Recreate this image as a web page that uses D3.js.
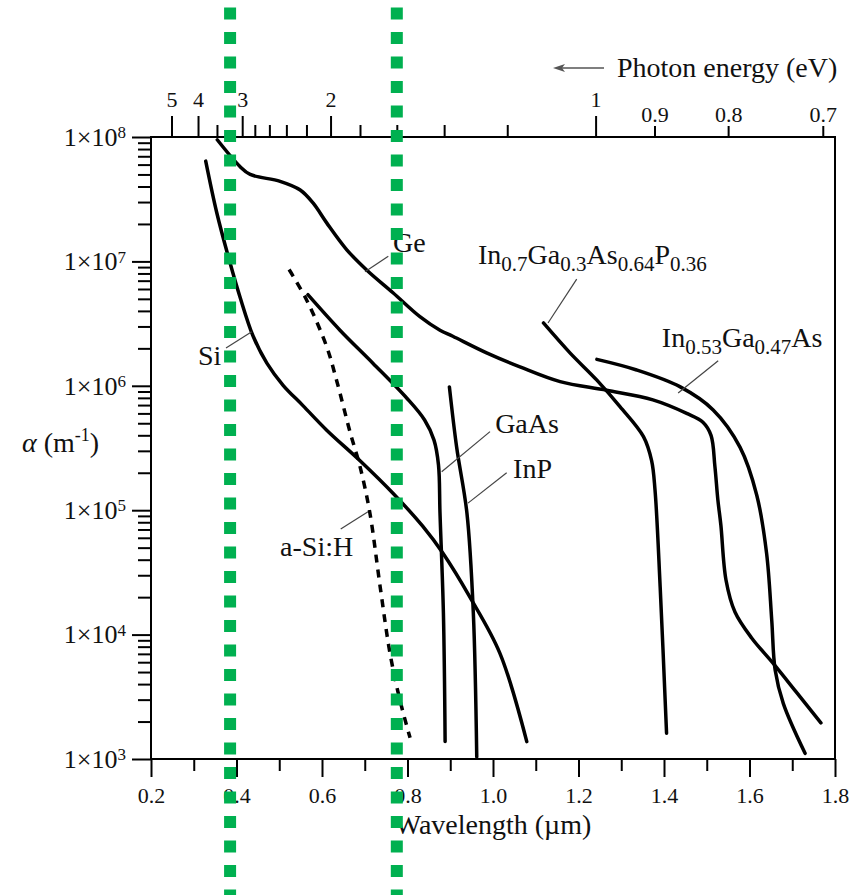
<!DOCTYPE html>
<html>
<head>
<meta charset="utf-8">
<title>Absorption coefficient vs wavelength</title>
<script src="https://d3js.org/d3.v7.min.js"></script>
<style>
  body { margin: 0; background: #fff; }
  svg text { font-family: "Liberation Serif", "Times New Roman", serif; fill: #111; }
  .tick line { stroke: #000; stroke-width: 2; }
</style>
</head>
<body>
<script>
// absorption curves, each point is [wavelength (um), alpha (1/m)]
var ge = [[0.355, 9.5e7], [0.408, 5.8e7], [0.432, 5.0e7], [0.502, 4.4e7], [0.549, 3.75e7],
  [0.579, 2.95e7], [0.611, 2.04e7], [0.658, 1.24e7], [0.705, 8.5e6], [0.766, 5.6e6],
  [0.829, 3.6e6], [0.876, 2.8e6], [0.906, 2.5e6], [0.985, 1.84e6], [1.063, 1.42e6],
  [1.157, 1.08e6], [1.266, 9.2e5], [1.374, 7.7e5], [1.453, 6.0e5], [1.491, 5.1e5],
  [1.510, 4.0e5], [1.519, 2.26e5], [1.526, 1.21e5], [1.533, 7.6e4], [1.545, 2.75e4],
  [1.566, 1.52e4], [1.605, 9.4e3], [1.655, 5.9e3], [1.711, 3.4e3], [1.767, 1.95e3]];
var si = [[0.328, 6.4e7], [0.354, 2.45e7], [0.385, 9.7e6], [0.408, 5.2e6], [0.439, 2.5e6],
  [0.471, 1.52e6], [0.509, 1.01e6], [0.556, 6.9e5], [0.611, 4.4e5], [0.689, 2.5e5],
  [0.766, 1.37e5], [0.836, 7.4e4], [0.883, 4.5e4], [0.946, 2.0e4], [1.016, 7.1e3],
  [1.079, 1.38e3]];
var aSiH = [[0.523, 8.6e6], [0.564, 4.9e6], [0.611, 2.06e6], [0.634, 1.11e6], [0.666, 4.2e5],
  [0.689, 2.24e5], [0.712, 9.5e4], [0.736, 2.43e4], [0.759, 7.1e3], [0.782, 3.0e3],
  [0.806, 1.48e3]];
var gaAs = [[0.567, 5.4e6], [0.642, 2.8e6], [0.719, 1.52e6], [0.798, 7.98e5], [0.840, 5.31e5],
  [0.862, 3.66e5], [0.8725, 2.31e5], [0.876, 9.5e4], [0.884, 1.49e4], [0.888, 1.38e3]];
var inP = [[0.898, 9.8e5], [0.915, 3.2e5], [0.939, 9.5e4], [0.954, 1.49e4], [0.962, 1.04e3]];
var inGaAsP = [[1.118, 3.2e6], [1.180, 1.84e6], [1.243, 1.11e6], [1.297, 6.8e5], [1.352, 3.9e5],
  [1.371, 2.5e5], [1.379, 1.45e5], [1.391, 2.43e4], [1.406, 1.61e3]];
var inGaAs = [[1.243, 1.63e6], [1.336, 1.34e6], [1.438, 9.8e5], [1.515, 6.4e5], [1.578, 3.2e5],
  [1.617, 1.32e5], [1.640, 4.5e4], [1.652, 1.31e4], [1.660, 5.2e3], [1.679, 2.8e3],
  [1.730, 1.11e3]];

// ticks
var xMajorTicks = [0.2, 0.4, 0.6, 0.8, 1.0, 1.2, 1.4, 1.6, 1.8];
var xMinorTicks = [0.3, 0.5, 0.7, 0.9, 1.1, 1.3, 1.5, 1.7];
var yExponents = [3, 4, 5, 6, 7, 8];
var eTicksHigh = [5, 4, 3, 2, 1];
var eTicksLow = [0.9, 0.8, 0.7];
var eTicksMinor = [3.5, 2.8, 2.6, 2.4, 2.2, 1.8, 1.6, 1.4, 1.2];

// visible band markers (um)
var visibleEdges = [0.385, 0.775];

// curve labels: text parts (1 = subscript), anchor at [wavelength, alpha]
var curveLabels = [
  { parts: [["Ge", 0]], at: [0.766, 1.19e7] },
  { parts: [["Si", 0]], at: [0.310, 1.47e6] },
  { parts: [["a-Si:H", 0]], at: [0.502, 4.29e4] },
  { parts: [["GaAs", 0]], at: [1.005, 4.18e5] },
  { parts: [["InP", 0]], at: [1.047, 1.82e5] },
  { parts: [["In", 0], ["0.7", 1], ["Ga", 0], ["0.3", 1], ["As", 0], ["0.64", 1], ["P", 0], ["0.36", 1]], at: [0.965, 9.53e6] },
  { parts: [["In", 0], ["0.53", 1], ["Ga", 0], ["0.47", 1], ["As", 0]], at: [1.395, 2.05e6] }
];
// leader lines from curve to label
var leaders = [
  [[0.7006, 8.26e6], [0.7551, 1.10e7]],
  [[0.3754, 2.01e6], [0.4356, 2.72e6]],
  [[0.6438, 7.06e4], [0.7076, 9.73e4]],
  [[0.880, 2.04e5], [0.993, 4.28e5]],
  [[0.9415, 1.14e5], [1.032, 2.0e5]],
  [[1.1287, 3.2e6], [1.1958, 7.2e6]],
  [[1.4331, 8.75e5], [1.5268, 1.59e6]]
];

var width = 854, height = 895;
var pLeft = 151, pRight = 835, pTop = 137, pBottom = 759;

var svg = d3.select("body").append("svg")
    .attr("width", width)
    .attr("height", height);

svg.append("rect").attr("width", width).attr("height", height).attr("fill", "#fff");

var x = d3.scaleLinear().domain([0.2, 1.8]).range([pLeft, pRight]);
var y = d3.scaleLog().domain([1e3, 1e8]).range([pBottom, pTop]);

// photon energy (eV) -> wavelength (um)
function ev(e) { return 1.24 / e; }

// bottom axis
var gx = svg.append("g").attr("transform", "translate(0," + pBottom + ")");
gx.call(d3.axisBottom(x).tickValues(xMajorTicks).tickSize(18).tickPadding(10)
    .tickFormat(d3.format(".1f")));
gx.append("g").call(d3.axisBottom(x).tickValues(xMinorTicks).tickSize(12).tickFormat(""));
gx.selectAll(".domain").remove();
gx.selectAll("text").attr("font-size", 22);

// left axis
var gy = svg.append("g").attr("transform", "translate(" + pLeft + ",0)");
var yMinor = [];
yExponents.slice(0, -1).forEach(function(p) {
  for (var k = 2; k <= 9; k++) yMinor.push(k * Math.pow(10, p));
});
gy.call(d3.axisLeft(y).tickValues(yExponents.map(function(p) { return Math.pow(10, p); }))
    .tickSize(19).tickPadding(6).tickFormat(""));
gy.append("g").call(d3.axisLeft(y).tickValues(yMinor).tickSize(13).tickFormat(""));
gy.selectAll(".domain").remove();
gy.selectAll(".tick text").filter(function(d) { return Math.abs(Math.log10(d) % 1) < 1e-9; })
  .each(function(d) {
    var t = d3.select(this).attr("font-size", 26).text("1\u00d710");
    t.append("tspan").attr("dy", "-0.45em").attr("font-size", 17).text(Math.round(Math.log10(d)));
  });

// top axis (photon energy)
var gt = svg.append("g").attr("transform", "translate(0," + pTop + ")");
gt.call(d3.axisTop(x).tickValues(eTicksHigh.map(ev)).tickSize(21).tickPadding(9)
    .tickFormat(function(d) { return d3.format("~g")(+(1.24 / d).toFixed(2)); }));
gt.append("g").call(d3.axisTop(x).tickValues(eTicksLow.map(ev)).tickSize(11).tickPadding(4)
    .tickFormat(function(d) { return (1.24 / d).toFixed(1); }));
gt.append("g").call(d3.axisTop(x).tickValues(eTicksMinor.map(ev)).tickSize(12).tickFormat(""));
gt.selectAll(".domain").remove();
gt.selectAll("text").attr("font-size", 22);

// frame
svg.append("rect")
    .attr("x", pLeft).attr("y", pTop)
    .attr("width", pRight - pLeft).attr("height", pBottom - pTop)
    .attr("fill", "none").attr("stroke", "#000").attr("stroke-width", 2);

// curves
var line = d3.line()
    .x(function(d) { return x(d[0]); })
    .y(function(d) { return y(d[1]); })
    .curve(d3.curveCatmullRom.alpha(0.5));

[ge, si, gaAs, inP, inGaAsP, inGaAs].forEach(function(c) {
  svg.append("path").datum(c).attr("d", line)
      .attr("fill", "none").attr("stroke", "#000").attr("stroke-width", 3.5)
      .attr("stroke-linecap", "round");
});
svg.append("path").datum(aSiH).attr("d", line)
    .attr("fill", "none").attr("stroke", "#000").attr("stroke-width", 3.5)
    .attr("stroke-dasharray", "8,7");

// leaders
svg.selectAll(".leader").data(leaders).enter().append("line")
    .attr("class", "leader")
    .attr("x1", function(d) { return x(d[0][0]); })
    .attr("y1", function(d) { return y(d[0][1]); })
    .attr("x2", function(d) { return x(d[1][0]); })
    .attr("y2", function(d) { return y(d[1][1]); })
    .attr("stroke", "#444").attr("stroke-width", 1.2);

// curve labels with subscripts
curveLabels.forEach(function(l) {
  var t = svg.append("text")
      .attr("x", x(l.at[0])).attr("y", y(l.at[1]))
      .attr("font-size", 28);
  var low = 0;
  l.parts.forEach(function(p) {
    var shift = p[1] ? 7 : 0;
    t.append("tspan")
        .attr("dy", shift - low)
        .attr("font-size", p[1] ? 21 : 28)
        .text(p[0]);
    low = shift;
  });
});

// axis titles
svg.append("text").attr("x", (pLeft + pRight) / 2).attr("y", 834)
    .attr("text-anchor", "middle").attr("font-size", 28)
    .text("Wavelength (\u00b5m)");

var ya = svg.append("text").attr("x", 22).attr("y", 452).attr("font-size", 28);
ya.append("tspan").attr("font-style", "italic").text("\u03b1");
ya.append("tspan").text(" (m");
ya.append("tspan").attr("dy", -11).attr("font-size", 18).text("-1");
ya.append("tspan").attr("dy", 11).text(")");

svg.append("text").attr("x", 617).attr("y", 77).attr("font-size", 28)
    .text("Photon energy (eV)");
svg.append("line").attr("x1", 557).attr("x2", 604).attr("y1", 68).attr("y2", 68)
    .attr("stroke", "#555").attr("stroke-width", 1.5);
svg.append("path").attr("d", "M553,68 l12,-4 l-3,4 l3,4 z").attr("fill", "#555");

// visible band markers
svg.selectAll(".edge").data(visibleEdges).enter().append("line")
    .attr("class", "edge")
    .attr("x1", function(d) { return x(d); })
    .attr("x2", function(d) { return x(d); })
    .attr("y1", 7.5).attr("y2", height)
    .attr("stroke", "#00b050").attr("stroke-width", 12)
    .attr("stroke-dasharray", "12,12.5");
</script>
</body>
</html>
